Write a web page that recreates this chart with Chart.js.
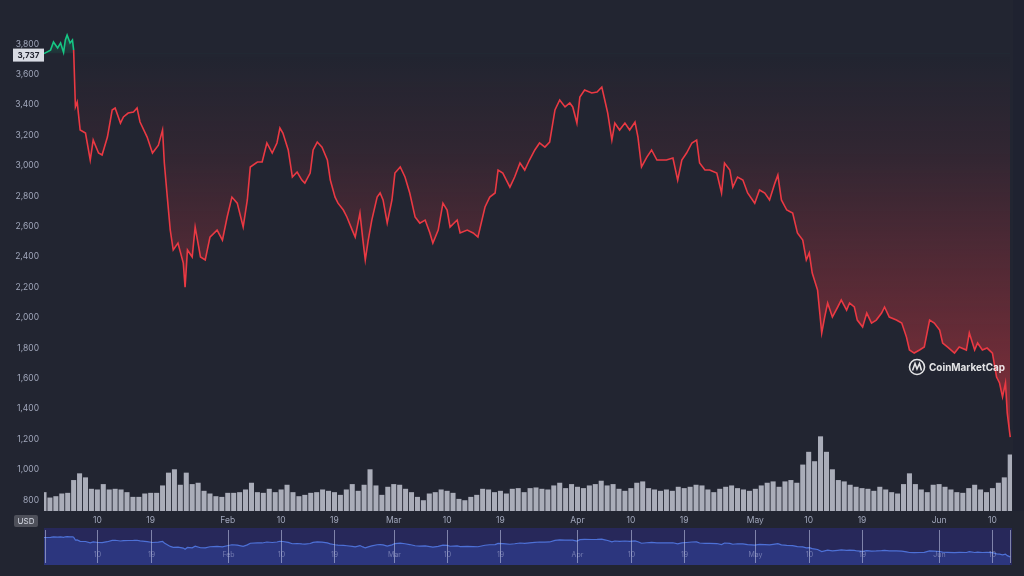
<!DOCTYPE html>
<html>
<head>
<meta charset="utf-8">
<script src="https://cdn.jsdelivr.net/npm/chart.js@4.4.1/dist/chart.umd.min.js"></script>
<style>
  html, body { margin: 0; padding: 0; background: #222531; }
  #wrap { position: relative; width: 1024px; height: 576px; overflow: hidden; background: #222531; }
  #main { position: absolute; left: 0; top: 0; }
  #nav { position: absolute; left: 0; top: 528px; }
</style>
</head>
<body>
<div id="wrap">
  <canvas id="main" width="1024" height="530"></canvas>
  <canvas id="nav" width="1024" height="37"></canvas>
</div>
<script>
// ETH / USD price, x = days since 1 Jan 2022
const priceDays = [
    0, 1.1, 1.6, 2.3, 2.8, 3.3, 3.6, 3.9, 4.4, 4.8,
    5.0, 5.3, 5.6, 6.1, 7.0, 7.8, 8.3, 9.2, 9.8, 10.7,
    11.5, 12.0, 12.9, 13.4, 14.2, 15.1, 15.7, 16.2, 17.4, 18.3,
    19.3, 20.0, 20.3, 20.8, 21.3, 21.8, 22.6, 23.5, 23.8, 24.2,
    25.0, 25.5, 26.4, 27.2, 28.0, 29.2, 30.1, 30.9, 31.7, 32.6,
    33.6, 34.3, 34.8, 36.0, 36.8, 37.6, 38.5, 39.3, 39.8, 40.3,
    41.2, 41.9, 42.7, 43.5, 44.0, 44.9, 45.4, 46.1, 46.9, 47.8,
    48.3, 49.1, 49.6, 50.5, 51.1, 52.0, 52.5, 53.3, 53.8, 54.2,
    54.7, 55.3, 56.2, 56.7, 57.2, 57.9, 58.7, 59.2, 60.1, 60.9,
    61.7, 62.6, 63.4, 64.3, 65.1, 65.6, 66.5, 67.3, 68.0, 68.5,
    69.7, 70.2, 71.4, 72.4, 73.2, 74.4, 75.2, 76.1, 76.6, 77.4,
    78.6, 79.4, 80.3, 81.1, 81.9, 82.8, 83.6, 84.5, 85.3, 86.2,
    87.0, 87.9, 88.7, 89.2, 89.9, 90.4, 91.2, 92.4, 93.3, 94.1,
    94.6, 95.1, 95.8, 96.3, 97.1, 98.0, 98.8, 99.7, 100.2, 100.8,
    101.7, 102.5, 103.4, 104.2, 105.0, 106.1, 106.9, 107.6, 108.4, 109.3,
    110.1, 110.6, 111.5, 112.3, 113.5, 114.3, 114.8, 115.7, 116.2, 117.0,
    117.9, 118.7, 119.9, 120.7, 121.6, 122.4, 123.3, 123.8, 124.4, 125.3,
    126.3, 127.1, 128.0, 128.6, 129.1, 129.6, 130.5, 131.2, 131.7, 132.2,
    133.0, 133.9, 134.5, 135.4, 135.9, 136.7, 137.2, 138.1, 138.8, 139.6,
    140.4, 141.3, 141.8, 142.6, 143.8, 144.7, 145.5, 146.0, 146.8, 147.7,
    148.5, 149.4, 150.2, 151.1, 151.6, 152.4, 153.6, 154.4, 155.6, 156.1,
    157.0, 157.5, 158.3, 159.1, 160.0, 160.7, 161.2, 161.7, 162.2, 162.5,
    163.0
];
const priceUsd = [
    3737, 3760, 3813, 3774, 3807, 3745, 3826, 3859, 3807, 3826,
    3760, 3386, 3418, 3234, 3214, 3037, 3168, 3083, 3070, 3188,
    3366, 3379, 3280, 3320, 3346, 3353, 3379, 3287, 3188, 3083,
    3135, 3234, 3017, 2793, 2576, 2445, 2490, 2359, 2201, 2445,
    2399, 2596, 2399, 2379, 2530, 2576, 2510, 2662, 2793, 2753,
    2596, 2774, 2991, 3024, 3024, 3149, 3083, 3149, 3247, 3214,
    3103, 2925, 2958, 2905, 2885, 2951, 3103, 3155, 3122, 3037,
    2905, 2793, 2753, 2708, 2662, 2576, 2530, 2688, 2510, 2379,
    2510, 2642, 2793, 2820, 2774, 2622, 2774, 2951, 2991, 2925,
    2820, 2662, 2622, 2642, 2557, 2490, 2576, 2753, 2708, 2596,
    2642, 2557, 2576, 2557, 2530, 2728, 2793, 2820, 2971, 2951,
    2859, 2925, 3017, 2971, 3037, 3103, 3149, 3122, 3155, 3366,
    3432, 3386, 3412, 3386, 3280, 3451, 3497, 3478, 3484, 3517,
    3432, 3346, 3168, 3280, 3234, 3280, 3234, 3287, 3188, 2991,
    3056, 3103, 3037, 3037, 3037, 3050, 2905, 3037, 3083, 3149,
    3168, 3017, 2971, 2971, 2951, 2820, 3017, 2971, 2859, 2925,
    2905, 2820, 2753, 2840, 2820, 2774, 2885, 2938, 2774, 2708,
    2688, 2557, 2510, 2379, 2425, 2293, 2181, 1899, 2004, 2096,
    2004, 2070, 2116, 2050, 2096, 2070, 1984, 1938, 2030, 1964,
    1984, 2030, 2070, 2004, 1984, 1964, 1872, 1787, 1767, 1787,
    1807, 1984, 1964, 1918, 1833, 1807, 1767, 1807, 1787, 1899,
    1787, 1833, 1787, 1800, 1767, 1609, 1570, 1478, 1570, 1372,
    1214
];
// daily volume, billions USD (index = day)
const volumeB = [
    14, 10, 11, 13, 13.5, 23, 28, 25, 16.5, 16,
    20, 16, 16.5, 16, 14, 10.5, 10.5, 13, 13.5, 13.5,
    19, 28.5, 31, 19.5, 28.5, 20, 21, 15, 13, 11,
    10.5, 13.5, 13.5, 14, 16, 21, 14, 13.5, 16.5, 14,
    16, 19.5, 14, 11, 12, 13.5, 14, 16, 15, 14,
    12, 16, 20, 15, 19.5, 31, 19, 12, 18, 20,
    19.5, 16.5, 14, 10.5, 8, 13, 14, 16, 15, 13.5,
    9, 8, 10.5, 12, 16.5, 16, 14, 15, 13, 16.5,
    17, 14, 17, 17.5, 16.5, 16, 19, 21, 17, 20,
    18, 17, 19, 20, 22.5, 19, 20, 16.5, 15, 17,
    21, 22, 17, 16, 15, 16, 15, 18, 17, 18,
    19.5, 19, 16, 14, 16.5, 18, 19, 17, 16, 15,
    16.5, 19, 21, 22, 18, 22, 23, 21, 34.5, 44,
    37, 55.5, 44, 31, 23, 22, 19.5, 18, 17, 16.5,
    15, 18, 16, 14, 13, 20, 28, 20, 16, 14,
    19.5, 20, 18, 16, 14, 13.5, 17, 19.5, 16, 14,
    17, 21, 25, 42
];
const yTicks = [800, 1000, 1200, 1400, 1600, 1800, 2000, 2200, 2400, 2600, 2800, 3000, 3200, 3400, 3600, 3800];
const tickDays = [9, 18, 31, 40, 49, 59, 68, 77, 90, 99, 108, 120, 129, 138, 151, 160];
const tickLabels = ["10", "19", "Feb", "10", "19", "Mar", "10", "19", "Apr", "10", "19", "May", "10", "19", "Jun", "10"];
const openPrice = 3737;

const RED = "#ea3943";
const GREEN = "#16c784";
const LABEL = "#a1a7bb";

const pricePoints = priceDays.map((d, i) => ({x: d, y: priceUsd[i]}));
const volPoints = volumeB.map((v, i) => ({x: i, y: v}));

const ctxMain = document.getElementById("main").getContext("2d");
const redFill = ctxMain.createLinearGradient(0, 55, 0, 445);
redFill.addColorStop(0, "rgba(234,57,67,0)");
redFill.addColorStop(0.25, "rgba(234,57,67,0.08)");
redFill.addColorStop(1, "rgba(234,57,67,0.5)");
const greenFill = ctxMain.createLinearGradient(0, 30, 0, 56);
greenFill.addColorStop(0, "rgba(22,199,132,0.35)");
greenFill.addColorStop(1, "rgba(22,199,132,0.05)");

const overlay = {
    id: "overlay",
    beforeDraw(chart){
        const c = chart.ctx;
        c.save();
        c.fillStyle = "#1f2230";
        c.fillRect(chart.chartArea.right + 1, 0, 20, chart.chartArea.bottom);
        c.restore();
    },
    afterDraw(chart){
        const c = chart.ctx;
        const y = chart.scales.y.getPixelForValue(openPrice);
        c.save();
        // open price tag
        c.fillStyle = "rgba(232,234,242,0.92)";
        c.fillRect(13, y - 5, 31, 13);
        c.fillStyle = "#222531";
        c.font = "bold 8px Inter";
        c.textAlign = "center";
        c.textBaseline = "middle";
        c.fillText(openPrice.toLocaleString("en-US"), 28.5, y + 1.5);

        // currency tag
        c.fillStyle = "rgba(255,255,255,0.2)";
        c.beginPath();
        c.roundRect(14, 515, 24, 12, 2);
        c.fill();
        c.fillStyle = "#d6d9e4";
        c.font = "8px Inter";
        c.fillText("USD", 26, 521.5);

        // watermark
        c.strokeStyle = "rgba(255,255,255,0.88)";
        c.lineWidth = 1.6;
        c.beginPath();
        c.arc(917, 367, 7.5, 0, Math.PI * 2);
        c.stroke();
        c.beginPath();
        c.moveTo(912.5, 370.5);
        c.lineTo(915, 363.5);
        c.lineTo(917, 369);
        c.lineTo(919.5, 363.5);
        c.lineTo(921.5, 370.5);
        c.stroke();
        c.fillStyle = "rgba(255,255,255,0.88)";
        c.font = "bold 10.5px Inter";
        c.textAlign = "left";
        c.fillText("CoinMarketCap", 929, 367.5, 76);
        c.restore();
    }
};

new Chart(ctxMain, {
    data: {
        datasets: [{
            type: "line",
            data: pricePoints,
            yAxisID: "y",
            borderColor: RED,
            borderWidth: 1.6,
            pointRadius: 0,
            tension: 0,
            segment: {
                borderColor: c => c.p1.parsed.y >= openPrice ? GREEN : RED
            },
            fill: {target: {value: openPrice}, above: greenFill, below: redFill},
            order: 1
        }, {
            type: "bar",
            data: volPoints,
            yAxisID: "vol",
            backgroundColor: "rgba(205,208,220,0.8)",
            barPercentage: 1,
            categoryPercentage: 0.85,
            order: 2
        }]
    },
    options: {
        responsive: false,
        animation: false,
        devicePixelRatio: 1,
        layout: {padding: {top: 20, right: 12, left: 0, bottom: 0}},
        plugins: {legend: {display: false}, tooltip: {enabled: false}},
        scales: {
            x: {
                type: "linear",
                offset: false,
                min: 0,
                max: 163.3,
                grid: {display: false, drawTicks: false},
                border: {display: false},
                afterBuildTicks: a => { a.ticks = tickDays.map(v => ({value: v})); },
                afterFit: a => { a.height = 19; },
                ticks: {
                    autoSkip: false,
                    maxRotation: 0,
                    padding: 4,
                    color: LABEL,
                    font: {family: "Inter", size: 8.5},
                    callback: v => tickLabels[tickDays.indexOf(v)]
                }
            },
            y: {
                position: "left",
                min: 728,
                max: 3958,
                grid: {display: false, drawTicks: false},
                border: {display: false},
                afterBuildTicks: a => { a.ticks = yTicks.map(v => ({value: v})); },
                afterFit: a => { a.width = 44; },
                ticks: {
                    padding: 5,
                    color: LABEL,
                    font: {family: "Inter", size: 8.5},
                    callback: v => v.toLocaleString("en-US")
                }
            },
            vol: {display: false, min: 0, max: 365}
        }
    },
    plugins: [overlay]
});

// navigator strip
const navDeco = {
    id: "navDeco",
    beforeDraw(chart){
        const c = chart.ctx, a = chart.chartArea;
        c.save();
        c.fillStyle = "#27285a";
        c.fillRect(a.left, a.top, a.right - a.left, a.bottom - a.top);
        c.restore();
    },
    afterDraw(chart){
        const c = chart.ctx, a = chart.chartArea, x = chart.scales.x;
        c.save();
        c.strokeStyle = "rgba(200,205,235,0.55)";
        c.lineWidth = 1;
        c.fillStyle = "rgba(200,205,235,0.45)";
        c.font = "7px Inter";
        c.textAlign = "center";
        c.textBaseline = "middle";
        tickDays.forEach((d, i) => {
            const px = Math.round(x.getPixelForValue(d)) + 0.5;
            c.beginPath();
            c.moveTo(px, a.top + 2);
            c.lineTo(px, a.bottom - 2);
            c.stroke();
            c.fillText(tickLabels[i], px, 27);
        });
        [a.left + 1.5, a.right - 1.5].forEach(px => {
            c.beginPath();
            c.moveTo(px, a.top + 2);
            c.lineTo(px, a.bottom - 2);
            c.stroke();
        });
        c.restore();
    }
};

new Chart(document.getElementById("nav"), {
    type: "line",
    data: {
        datasets: [{
            data: pricePoints,
            borderColor: "#4d70d6",
            borderWidth: 1.2,
            pointRadius: 0,
            tension: 0,
            fill: "start",
            backgroundColor: "rgba(50,70,170,0.45)"
        }]
    },
    options: {
        responsive: false,
        animation: false,
        devicePixelRatio: 1,
        layout: {padding: {left: 44, right: 12, top: 0, bottom: 0}},
        plugins: {legend: {display: false}, tooltip: {enabled: false}},
        scales: {
            x: {type: "linear", display: false, min: 0, max: 163.3},
            y: {display: false, min: 160, max: 4970}
        }
    },
    plugins: [navDeco]
});
</script>
</body>
</html>
